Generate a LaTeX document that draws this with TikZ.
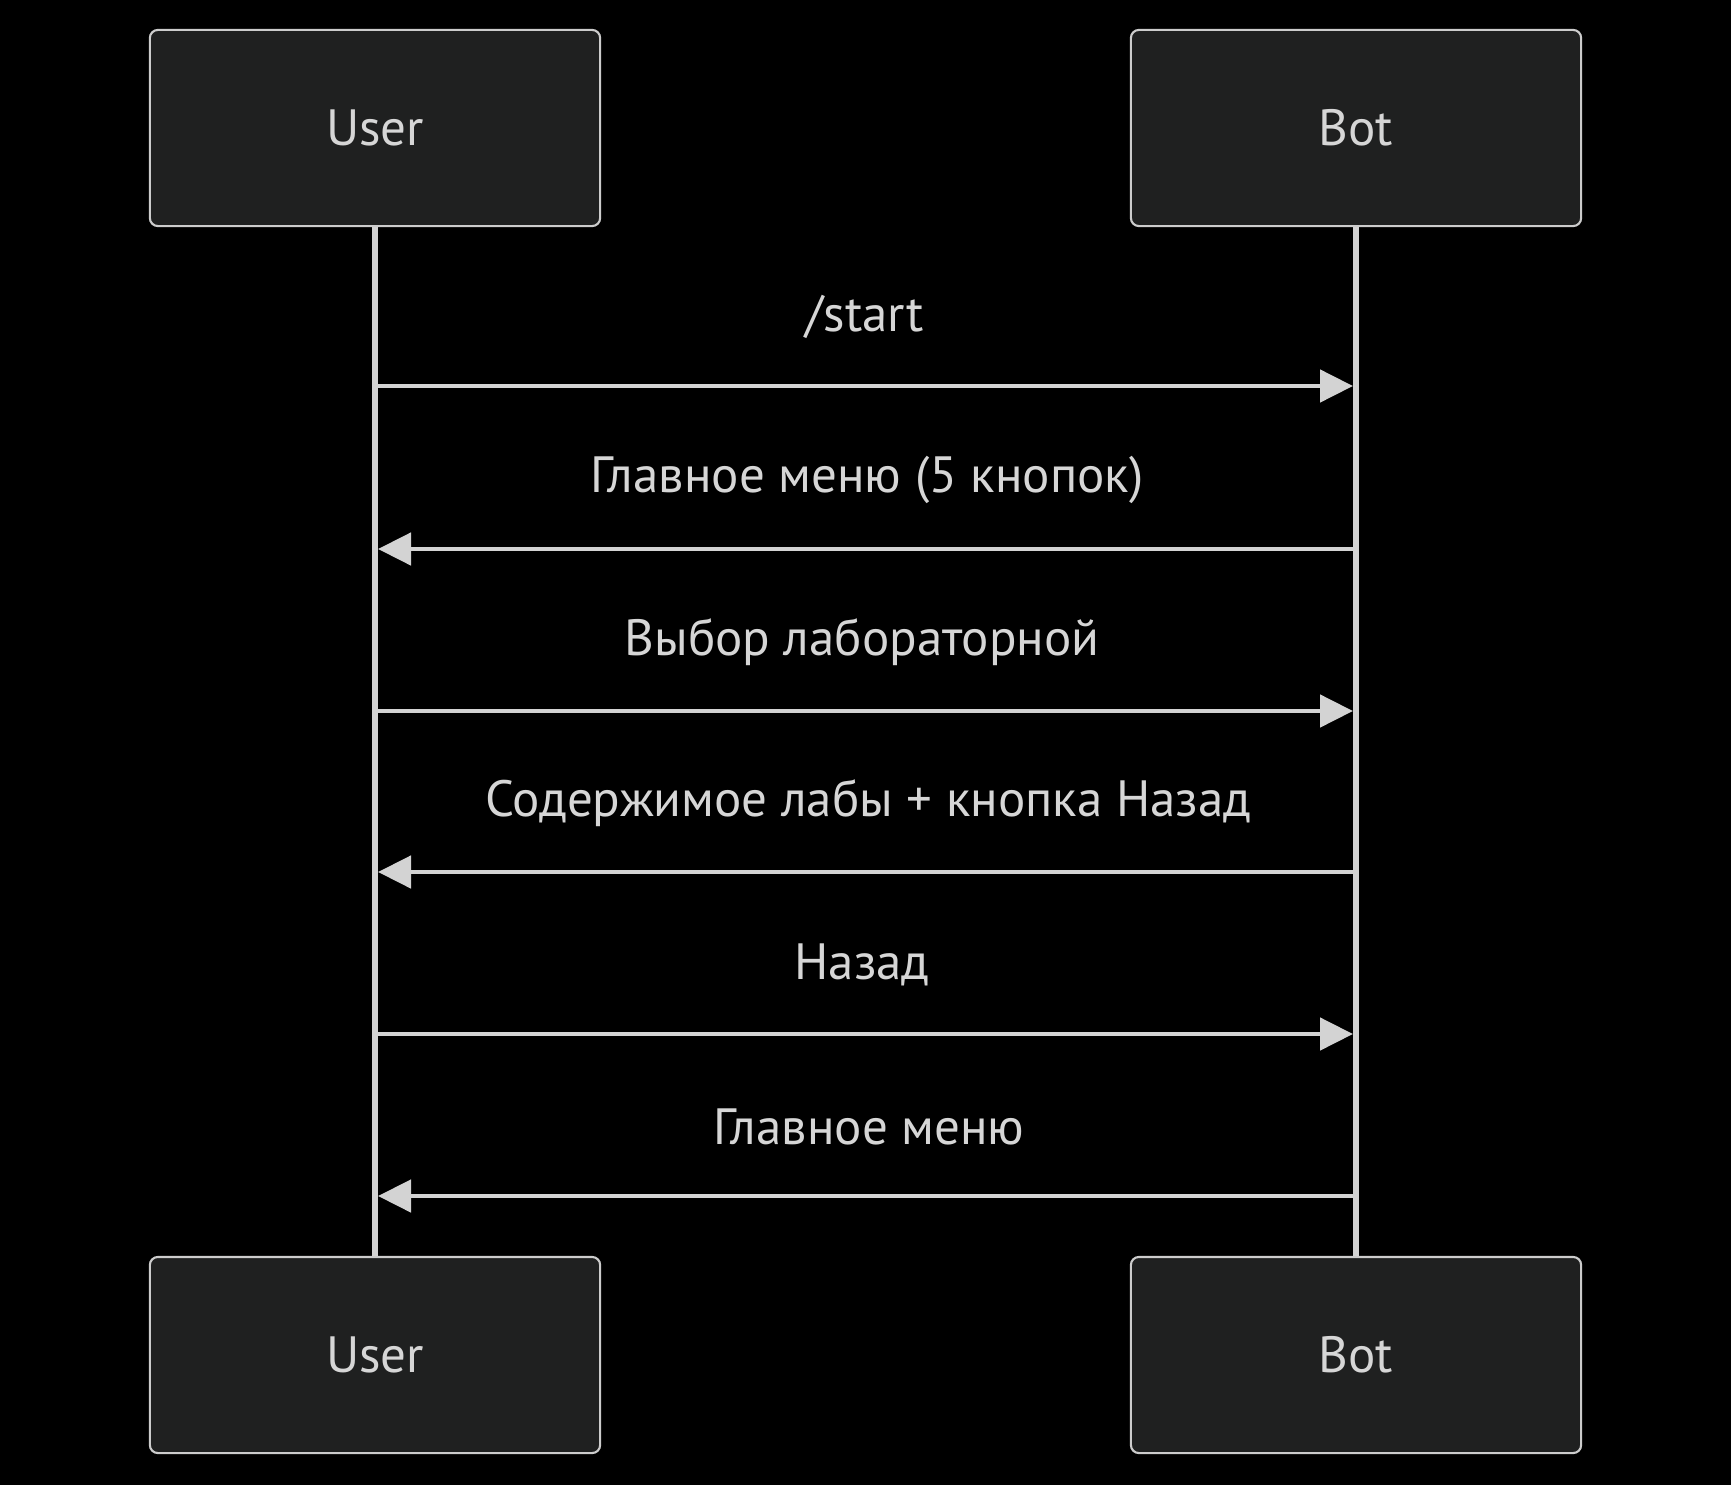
\documentclass[tikz,border=0pt]{standalone}
\usepackage{fontspec}
\setmainfont{PT Sans}
\usetikzlibrary{arrows.meta}

\definecolor{actorfill}{HTML}{1F2020}
\definecolor{actorline}{HTML}{CCCCCC}
\definecolor{msgline}{HTML}{D3D3D3}
\definecolor{msgtext}{HTML}{D6D6D6}

\begin{document}
\begin{tikzpicture}[x=0.01cm,y=-0.01cm,
  every node/.style={font=\fontsize{14.5}{17}\selectfont,text=msgtext},
  actor/.style={draw=actorline,fill=actorfill,line width=0.6pt,
    rounded corners=0.8mm,minimum width=4.5cm,minimum height=1.96cm},
  life/.style={draw=msgline,line width=1.45pt},
  msg/.style={draw=msgline,line width=1.35pt,
    -{Triangle[length=3.3mm,width=3.2mm]}}
]
  \fill[black] (0,0) rectangle (1731,1485);
  \useasboundingbox (0,0) rectangle (1731,1485);

  % lifelines
  \node[actor] (usertop) at (375,128) {User};
  \node[actor] (bottop) at (1356,128) {Bot};
  \node[actor] (userbot) at (375,1355) {User};
  \node[actor] (botbot) at (1356,1355) {Bot};
  \draw[life] (usertop.south) -- (userbot.north);
  \draw[life] (bottop.south) -- (botbot.north);

  % message ends on the lifelines
  \coordinate (u1) at (378,386);  \coordinate (b1) at (1353,386);
  \coordinate (b2) at (1353,549); \coordinate (u2) at (378,549);
  \coordinate (u3) at (378,711);  \coordinate (b3) at (1353,711);
  \coordinate (b4) at (1353,872); \coordinate (u4) at (378,872);
  \coordinate (u5) at (378,1034); \coordinate (b5) at (1353,1034);
  \coordinate (b6) at (1353,1196);\coordinate (u6) at (378,1196);

  \draw[msg] (u1) -- (b1);
  \node (start) at (865,317) {/start};
  \draw[msg] (b2) -- (u2);
  \node (menufive) at (867,480) {Главное меню (5 кнопок)};
  \draw[msg] (u3) -- (b3);
  \node (choose) at (862,642) {Выбор лабораторной};
  \draw[msg] (b4) -- (u4);
  \node (content) at (868,803) {Содержимое лабы + кнопка Назад};
  \draw[msg] (u5) -- (b5);
  \node (back) at (862,965) {Назад};
  \draw[msg] (b6) -- (u6);
  \node (menu) at (869,1127) {Главное меню};
\end{tikzpicture}
\end{document}
